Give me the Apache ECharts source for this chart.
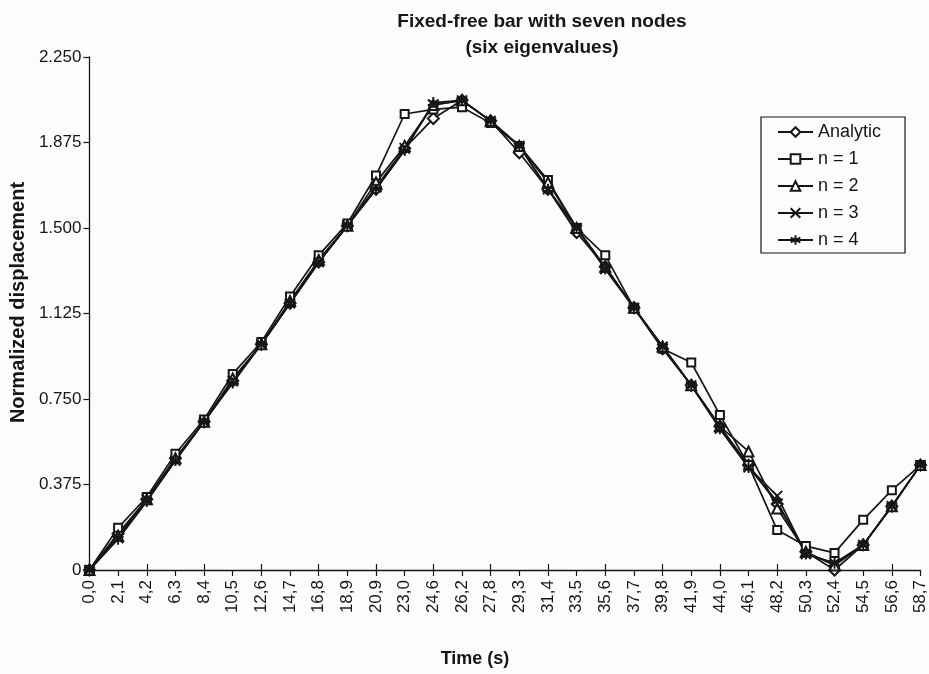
<!DOCTYPE html>
<html>
<head>
<meta charset="utf-8">
<script src="https://cdn.jsdelivr.net/npm/echarts@6/dist/echarts.min.js"></script>
<style>
html,body{margin:0;padding:0;background:#fcfcfb;}
#chart{width:929px;height:674px;}
</style>
</head>
<body>
<div id="chart"></div>
<script>
const categories = ['0,0','2,1','4,2','6,3','8,4','10,5','12,6','14,7','16,8','18,9','20,9','23,0','24,6','26,2','27,8','29,3','31,4','33,5','35,6','37,7','39,8','41,9','44,0','46,1','48,2','50,3','52,4','54,5','56,6','58,7'];
const yTicks = [0, 0.375, 0.75, 1.125, 1.5, 1.875, 2.25];
const analytic = [0, 0.16, 0.31, 0.49, 0.65, 0.83, 0.99, 1.17, 1.35, 1.51, 1.67, 1.85, 1.98, 2.06, 1.97, 1.83, 1.67, 1.48, 1.33, 1.15, 0.97, 0.81, 0.63, 0.46, 0.29, 0.08, 0.00, 0.11, 0.28, 0.46];
const n1 = [0, 0.185, 0.32, 0.51, 0.66, 0.86, 1.00, 1.20, 1.38, 1.52, 1.73, 2.00, 2.02, 2.03, 1.96, 1.86, 1.71, 1.50, 1.38, 1.15, 0.97, 0.91, 0.68, 0.46, 0.175, 0.105, 0.075, 0.22, 0.35, 0.46];
const n2 = [0, 0.15, 0.31, 0.49, 0.65, 0.84, 0.99, 1.18, 1.36, 1.51, 1.70, 1.86, 2.04, 2.06, 1.97, 1.86, 1.70, 1.50, 1.33, 1.15, 0.98, 0.81, 0.63, 0.52, 0.27, 0.08, 0.02, 0.11, 0.28, 0.46];
const n3 = [0, 0.14, 0.31, 0.48, 0.65, 0.83, 0.99, 1.17, 1.35, 1.51, 1.68, 1.85, 2.04, 2.06, 1.97, 1.86, 1.67, 1.50, 1.32, 1.15, 0.98, 0.81, 0.62, 0.45, 0.325, 0.07, 0.03, 0.11, 0.28, 0.46];
const n4 = [0, 0.135, 0.30, 0.48, 0.65, 0.82, 0.99, 1.17, 1.35, 1.51, 1.67, 1.84, 2.05, 2.06, 1.97, 1.86, 1.67, 1.50, 1.32, 1.15, 0.98, 0.81, 0.62, 0.45, 0.30, 0.07, 0.03, 0.11, 0.28, 0.46];
const seriesNames = ['Analytic', 'n = 1', 'n = 2', 'n = 3', 'n = 4'];

const INK = '#161616';
const FONT = 'Liberation Sans, Arial, sans-serif';
const crossPath = 'path://M0,0L10,10M10,0L0,10';
const starPath = 'path://M5,0L5,10M0.7,2.5L9.3,7.5M0.7,7.5L9.3,2.5';

function mk(name, data, symbol, size, hollow) {
  return {
    name: name, type: 'line', data: data,
    symbol: symbol, symbolSize: size, showAllSymbol: true,
    lineStyle: {color: INK, width: 1.7},
    itemStyle: hollow ? {color: INK, borderColor: INK, borderWidth: 1.4}
                      : {color: INK, borderColor: INK, borderWidth: 1.9},
    emphasis: {disabled: true}, animation: false
  };
}

const chart = echarts.init(document.getElementById('chart'));
chart.setOption({
  backgroundColor: '#fcfcfb',
  animation: false,
  title: {
    text: 'Fixed-free bar with seven nodes\n(six eigenvalues)',
    left: 537, top: 4, textAlign: 'center',
    textStyle: {fontFamily: FONT, fontWeight: 'bold', fontSize: 19, lineHeight: 26, color: INK}
  },
  legend: {
    orient: 'vertical', left: 761, top: 117,
    backgroundColor: '#fcfcfb',
    borderColor: INK, borderWidth: 1.2,
    padding: [5, 24, 3, 16],
    itemWidth: 35, itemHeight: 12, itemGap: 7,
    textStyle: {fontFamily: FONT, fontSize: 18, lineHeight: 20, color: INK},
    data: seriesNames
  },
  grid: {left: 87, right: 6, top: 57, bottom: 104, containLabel: false},
  xAxis: [{
    type: 'category', data: categories, boundaryGap: false,
    name: 'Time (s)', nameLocation: 'middle', nameGap: 80,
    nameTextStyle: {fontFamily: FONT, fontWeight: 'bold', fontSize: 18, color: INK, padding: [0, 60, 0, 0]},
    axisLine: {lineStyle: {color: INK, width: 1.3}},
    axisTick: {show: true, length: 6, lineStyle: {color: INK, width: 1.2}},
    axisLabel: {rotate: 90, interval: 0, fontFamily: FONT, fontSize: 17, color: INK, margin: 10},
    splitLine: {show: false}
  }, {
    type: 'category', data: categories, boundaryGap: false, position: 'bottom',
    axisLine: {show: false},
    axisTick: {show: true, inside: true, length: 6, lineStyle: {color: INK, width: 1.2}},
    axisLabel: {show: false}, splitLine: {show: false}
  }],
  yAxis: {
    type: 'value', min: 0, max: 2.25, interval: 0.375,
    name: 'Normalized displacement', nameLocation: 'middle', nameGap: 60,
    nameTextStyle: {fontFamily: FONT, fontWeight: 'bold', fontSize: 20, color: INK, padding: [0, 0, 0, 22]},
    axisLine: {show: true, lineStyle: {color: INK, width: 1.3}},
    axisTick: {show: true, length: 6, lineStyle: {color: INK, width: 1.2}},
    axisLabel: {fontFamily: FONT, fontSize: 17, color: INK, margin: 8,
      formatter: v => v === 0 ? '0' : v.toFixed(3)},
    splitLine: {show: false}
  },
  series: [
    mk(seriesNames[0], analytic, 'emptyDiamond', 11, true),
    mk(seriesNames[1], n1, 'emptyRect', 8, true),
    mk(seriesNames[2], n2, 'emptyTriangle', 10, true),
    mk(seriesNames[3], n3, crossPath, 10, false),
    mk(seriesNames[4], n4, starPath, 11, false)
  ]
});
</script>
</body>
</html>
